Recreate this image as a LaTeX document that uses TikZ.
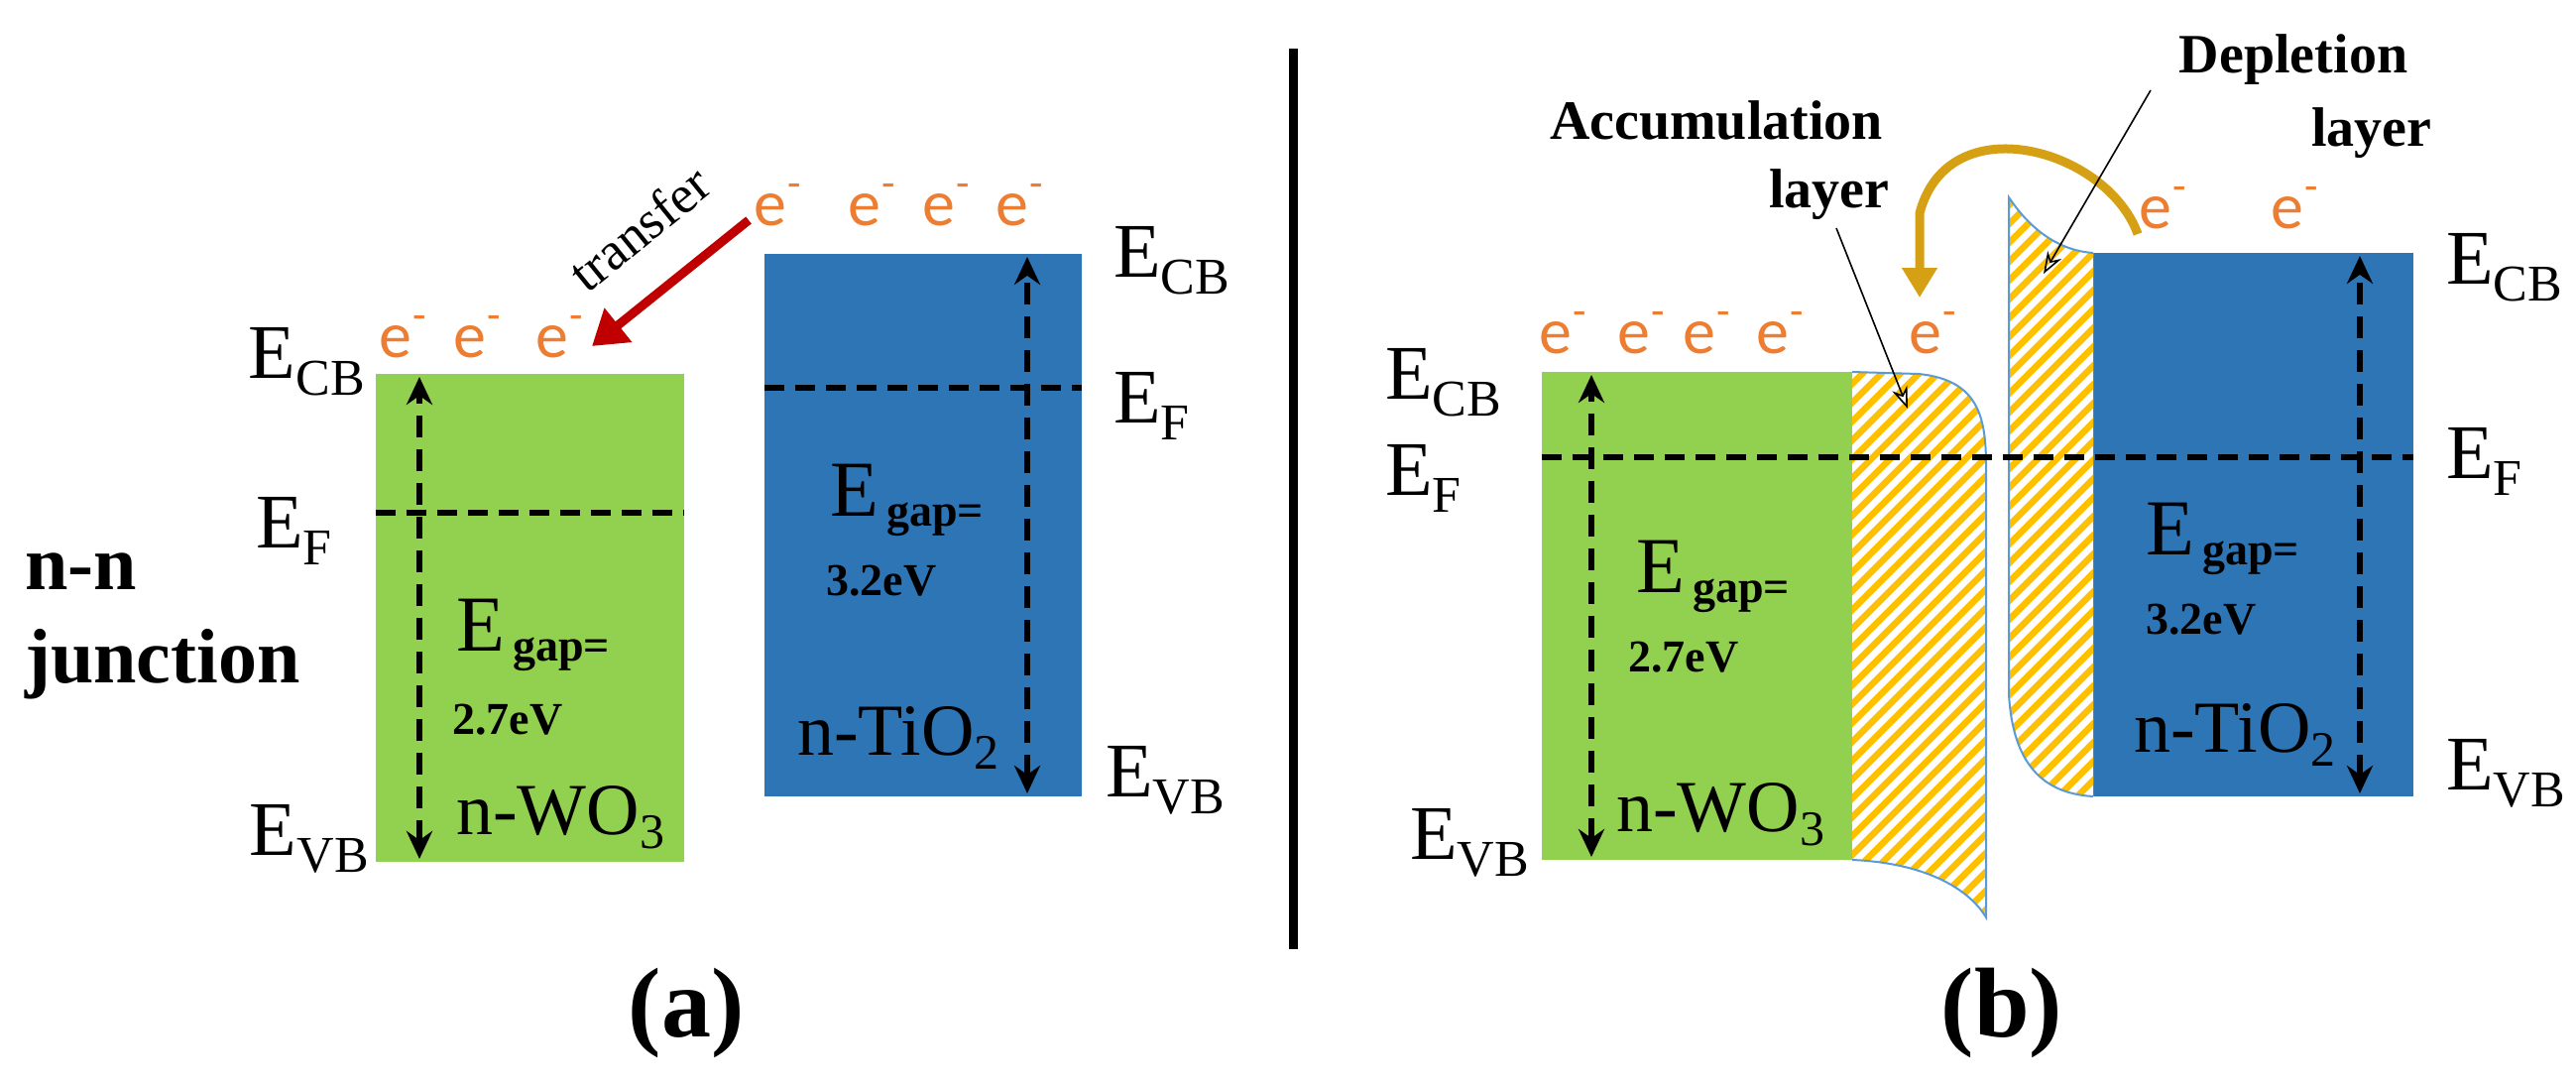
\documentclass[tikz,border=0pt]{standalone}
\usepackage{fontspec}
\setmainfont{Liberation Serif}
\newfontfamily\elfont{Carlito}
\usetikzlibrary{arrows.meta}
\definecolor{wgreen}{RGB}{146,208,80}
\definecolor{tblue}{RGB}{46,117,182}
\definecolor{eorange}{RGB}{237,125,49}
\definecolor{tred}{RGB}{192,0,0}
\definecolor{tgold}{RGB}{214,160,20}
\definecolor{hatchy}{RGB}{255,192,0}
\definecolor{edgeb}{RGB}{91,155,213}
\newcommand{\lvl}[2]{E\raisebox{-0.22em}{\fontsize{52}{52}\selectfont #2}}
\newcommand{\myel}{{\elfont e\kern1pt\raisebox{0.42em}{\fontsize{44}{44}\selectfont -}}}
\begin{document}
\begin{tikzpicture}[x=1pt,y=-1pt,
  lab/.style={inner sep=0pt,font=\fontsize{78}{78}\selectfont},
  elec/.style={inner sep=0pt,anchor=base,text=eorange,font=\fontsize{66}{66}\selectfont},
  gapE/.style={inner sep=0pt,anchor=base west,font=\fontsize{80}{80}\selectfont},
  gapb/.style={inner sep=0pt,anchor=base west,font=\fontsize{46}{46}\selectfont\bfseries},
  matl/.style={inner sep=0pt,anchor=base west,font=\fontsize{74}{74}\selectfont},
  blab/.style={inner sep=0pt,anchor=base,font=\fontsize{56}{56}\selectfont\bfseries},
  fermi/.style={line width=6pt,dash pattern=on 20pt off 11pt},
  gaparrow/.style={line width=6pt,dash pattern=on 22pt off 12pt,{Stealth[length=28pt,width=26pt]}-{Stealth[length=28pt,width=26pt]}},
  pointer/.style={line width=1.6pt,-{Stealth[length=22pt,width=16pt,open]}},
  hatch/.style={edgeb,line width=2pt}]
\useasboundingbox (0,0) rectangle (2598,1095);
\fill[white] (0,0) rectangle (2598,1095);
% ---------------- panel (a)
\fill[wgreen] (379,377) rectangle (690,869);
\fill[tblue] (771,256) rectangle (1091,803);
\coordinate (ga1) at (379,517); \coordinate (ga2) at (690,517);
\coordinate (ba1) at (771,391); \coordinate (ba2) at (1091,391);
\draw[fermi] (ga1) -- (ga2);
\draw[fermi] (ba1) -- (ba2);
\coordinate (gat) at (423,380); \coordinate (gab) at (423,866);
\coordinate (bat) at (1036,259); \coordinate (bab) at (1036,800);
\draw[gaparrow] (gab) -- (gat);
\draw[gaparrow] (bab) -- (bat);
\node[lab,anchor=base east] (acb) at (368,381) {\lvl{}{CB}};
\node[lab,anchor=base east] (aef) at (335,552) {\lvl{}{F}};
\node[lab,anchor=base east] (avb) at (372,862) {\lvl{}{VB}};
\node[lab,anchor=base west] (acb2) at (1123,279) {\lvl{}{CB}};
\node[lab,anchor=base west] (aef2) at (1123,426) {\lvl{}{F}};
\node[lab,anchor=base west] (avb2) at (1115,803) {\lvl{}{VB}};
\node[gapE] (ae1) at (460,656) {E};
\node[gapb,yshift=-10pt] (ae1g) at (ae1.base east) {\,gap=};
\node[gapb] (ae1v) at (456,740) {2.7eV};
\node[matl] (awo) at (460,841) {n-WO\raisebox{-0.2em}{\fontsize{50}{50}\selectfont 3}};
\node[gapE] (ae2) at (837,520) {E};
\node[gapb,yshift=-10pt] (ae2g) at (ae2.base east) {\,gap=};
\node[gapb] (ae2v) at (833,600) {3.2eV};
\node[matl] (ati) at (804,761) {n-TiO\raisebox{-0.2em}{\fontsize{50}{50}\selectfont 2}};
\node[elec] (e1) at (406,360) {\myel};
\node[elec] (e2) at (481,360) {\myel};
\node[elec] (e3) at (564,360) {\myel};
\node[elec] (e4) at (784,227) {\myel};
\node[elec] (e5) at (879,227) {\myel};
\node[elec] (e6) at (954,227) {\myel};
\node[elec] (e7) at (1028,227) {\myel};
\coordinate (ra1) at (755,222); \coordinate (ra2) at (597,349);
\draw[tred,line width=9pt,-{Triangle[length=34pt,width=42pt]}] (ra1) -- (ra2);
\node[inner sep=0pt,rotate=39,font=\fontsize{54}{54}\selectfont] (tr) at (645,230) {transfer};
\node[inner sep=0pt,anchor=base west,font=\fontsize{78}{78}\selectfont\bfseries] (nn) at (25,594) {n-n};
\node[inner sep=0pt,anchor=base west,font=\fontsize{78}{78}\selectfont\bfseries] (jn) at (25,688) {junction};
\node[inner sep=0pt,anchor=base,font=\fontsize{100}{100}\selectfont\bfseries] (la) at (692,1045) {(a)};
% divider
\coordinate (d1) at (1304,49); \coordinate (d2) at (1304,957);
\draw[line width=9pt] (d1) -- (d2);
% ---------------- panel (b)
\fill[wgreen] (1555,375) rectangle (1868,867);
\fill[tblue] (2111,255) rectangle (2434,803);
% accumulation region
\begin{scope}
\clip (1868,375) -- (1935,377) .. controls (1995,383) and (2003,420) .. (2003,470) -- (2003,925) .. controls (1985,895) and (1940,870) .. (1868,867) -- cycle;
\fill[white] (1850,360) rectangle (2020,940);
\foreach \i in {0,...,70} {\draw[hatchy,line width=6.5pt] (1200+\i*19,960) -- ++(700,-700);}
\end{scope}
\draw[hatch] (1868,375) -- (1935,377) .. controls (1995,383) and (2003,420) .. (2003,470) -- (2003,925) .. controls (1985,895) and (1940,870) .. (1868,867);
% depletion region
\begin{scope}
\clip (2026,199) .. controls (2050,235) and (2080,253) .. (2111,255) -- (2111,803) .. controls (2060,800) and (2030,770) .. (2026,700) -- cycle;
\fill[white] (2010,190) rectangle (2120,810);
\foreach \i in {0,...,70} {\draw[hatchy,line width=6.5pt] (1200+\i*19,900) -- ++(750,-750);}
\end{scope}
\draw[hatch] (2111,255) .. controls (2080,253) and (2050,235) .. (2026,199) -- (2026,700) .. controls (2030,770) and (2060,800) .. (2111,803);
\coordinate (gb1) at (1555,461); \coordinate (gb2) at (2434,461);
\draw[fermi] (gb1) -- (gb2);
\coordinate (gbt) at (1605,378); \coordinate (gbb) at (1605,864);
\coordinate (bbt) at (2380,258); \coordinate (bbb) at (2380,800);
\draw[gaparrow] (gbb) -- (gbt);
\draw[gaparrow] (bbb) -- (bbt);
\node[lab,anchor=base west] (bcb) at (1397,402) {\lvl{}{CB}};
\node[lab,anchor=base west] (bef) at (1397,499) {\lvl{}{F}};
\node[lab,anchor=base west] (bvb) at (1422,866) {\lvl{}{VB}};
\node[lab,anchor=base west] (bcb2) at (2467,286) {\lvl{}{CB}};
\node[lab,anchor=base west] (bef2) at (2467,482) {\lvl{}{F}};
\node[lab,anchor=base west] (bvb2) at (2467,796) {\lvl{}{VB}};
\node[gapE] (be1) at (1650,597) {E};
\node[gapb,yshift=-10pt] (be1g) at (be1.base east) {\,gap=};
\node[gapb] (be1v) at (1642,677) {2.7eV};
\node[matl] (bwo) at (1630,838) {n-WO\raisebox{-0.2em}{\fontsize{50}{50}\selectfont 3}};
\node[gapE] (be2) at (2164,559) {E};
\node[gapb,yshift=-10pt] (be2g) at (be2.base east) {\,gap=};
\node[gapb] (be2v) at (2164,639) {3.2eV};
\node[matl] (bti) at (2152,758) {n-TiO\raisebox{-0.2em}{\fontsize{50}{50}\selectfont 2}};
\node[elec] (f1) at (1576,356) {\myel};
\node[elec] (f2) at (1655,356) {\myel};
\node[elec] (f3) at (1721,356) {\myel};
\node[elec] (f4) at (1795,356) {\myel};
\node[elec] (f5) at (1949,356) {\myel};
\node[elec] (f6) at (2181,230) {\myel};
\node[elec] (f7) at (2314,230) {\myel};
\coordinate (ga) at (2156,236); \coordinate (gz) at (1936,300);
\draw[tgold,line width=9pt,-{Triangle[length=30pt,width=34pt]}] (ga) .. controls (2125,150) and (1965,105) .. (1936,215) -- (gz);
\node[blab] (acc) at (1731,140) {Accumulation};
\node[blab] (accl) at (1845,209) {layer};
\node[blab] (dep) at (2313,73) {Depletion};
\node[blab] (depl) at (2392,147) {layer};
\coordinate (pa2) at (1924,412); \coordinate (pd2) at (2061,276);
\draw[pointer] (1852,230) -- (pa2);
\draw[pointer] (2169,91) -- (pd2);
\node[inner sep=0pt,anchor=base,font=\fontsize{100}{100}\selectfont\bfseries] (lb) at (2019,1045) {(b)};
\end{tikzpicture}
\end{document}
